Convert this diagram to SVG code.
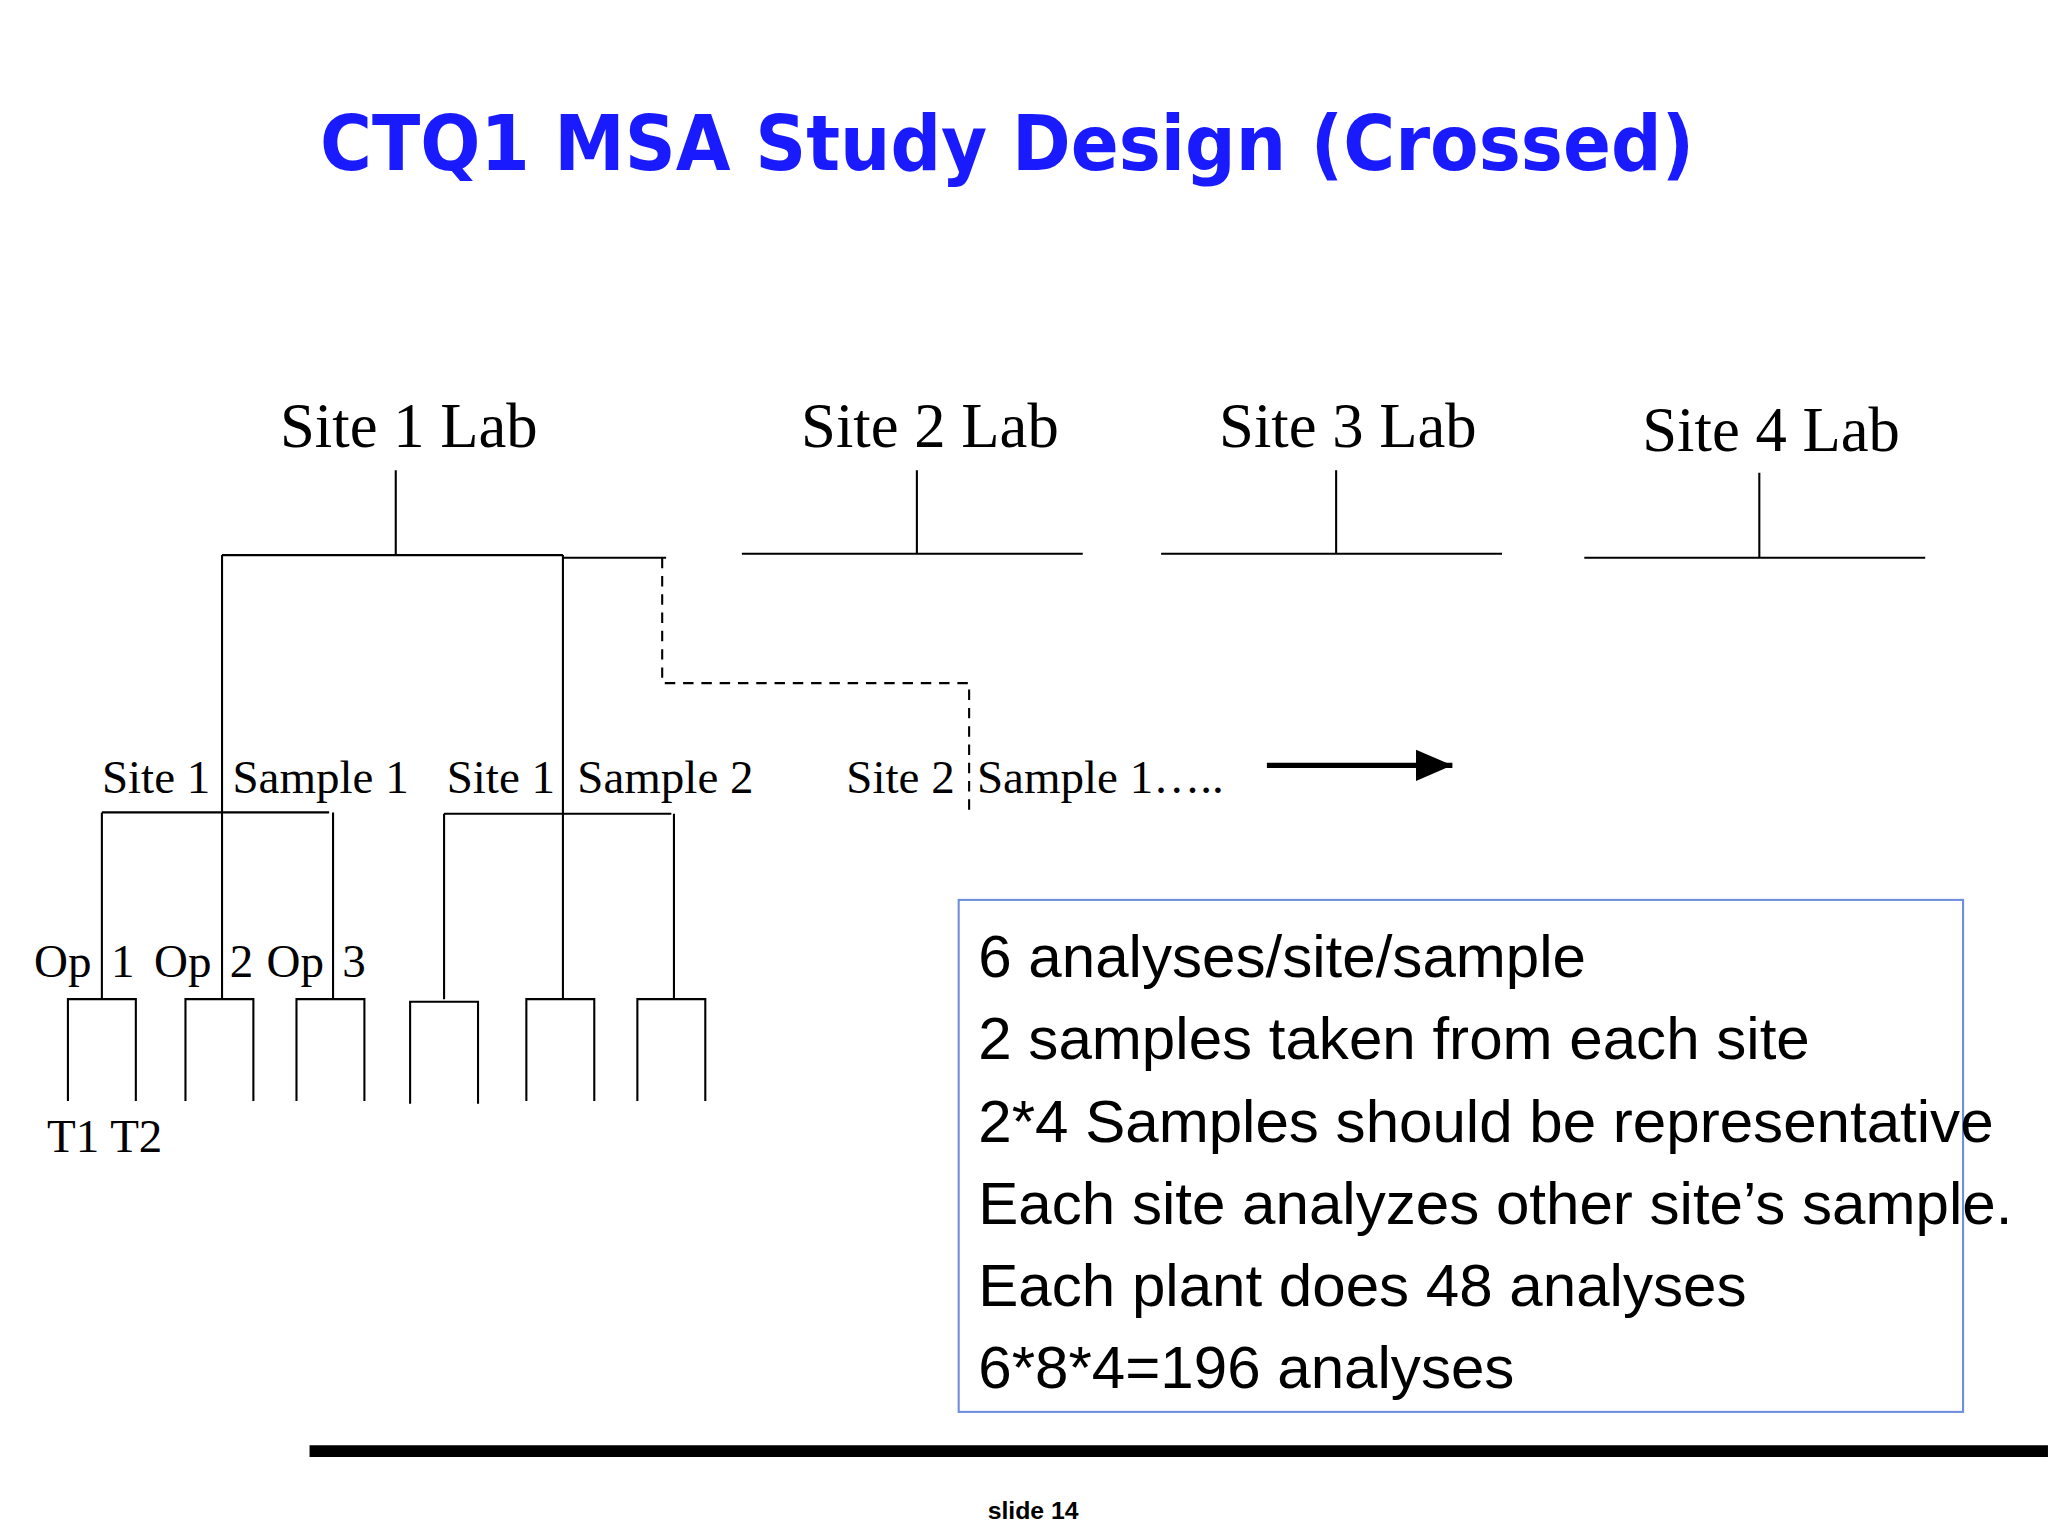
<svg xmlns="http://www.w3.org/2000/svg" width="2048" height="1536" viewBox="0 0 2048 1536">
<style>
.ln{stroke:#000;stroke-width:1.6;fill:none}
.t{font-family:"Liberation Serif","Times New Roman",serif;fill:#000}
.lab{font-size:48px}
.sm{font-size:36px}
.bx{font-family:"Liberation Sans Narrow","Liberation Sans",Arial,sans-serif;font-stretch:condensed;font-size:46px;fill:#000}
</style>
<defs><marker id="ah" markerWidth="8" markerHeight="8" refX="7" refY="4" orient="auto" markerUnits="strokeWidth"><path d="M0,1 L7,4 L0,7 z" fill="#000"/></marker></defs>
<rect width="2048" height="1536" fill="#fff"/>
<g transform="scale(1.3061)">
<text id="title" x="771" y="130" text-anchor="middle" font-family="'Comic Sans MS','DejaVu Sans',sans-serif" font-weight="bold" font-size="58" fill="#1a1aff" textLength="1052" lengthAdjust="spacingAndGlyphs">CTQ1 MSA Study Design (Crossed)</text>
<g id="site1"><text class="t lab" x="313" y="342" text-anchor="middle">Site 1 Lab</text></g>
<g id="site2"><text class="t lab" x="712" y="342" text-anchor="middle">Site 2 Lab</text></g>
<g id="site3"><text class="t lab" x="1032" y="342" text-anchor="middle">Site 3 Lab</text></g>
<g id="site4"><text class="t lab" x="1356" y="345" text-anchor="middle">Site 4 Lab</text></g>
<g id="samples" class="t sm">
<text x="78" y="607">Site 1</text><text x="178" y="607">Sample 1</text>
<text x="342" y="607">Site 1</text><text x="442" y="607">Sample 2</text>
<text x="648" y="607">Site 2</text><text x="748" y="607">Sample 1…..</text>
</g>
<g id="ops" class="t sm">
<text x="26" y="748">Op</text><text x="85" y="748">1</text>
<text x="118" y="748">Op</text><text x="176" y="748">2</text>
<text x="204" y="748">Op</text><text x="262" y="748">3</text>
<text x="36" y="882">T1 T2</text>
</g>
<g id="connectors">
<path class="ln" d="M303,360V425M170,425H431M431,427H510M170,425V765M431,425V765"/>
<path class="ln" d="M507,427V523H742V622" stroke-dasharray="8,6"/>
<path class="ln" d="M702,360V424M568,424H829M1023,360V424M889,424H1150M1347,362V427M1213,427H1474"/>
<path class="ln" d="M78,622H252M78,622V765M255,622V765M340,623H514M340,623V765M516,623V765"/>
<path class="ln" d="M52,843V765H104V843M142,843V765H194V843M227,843V765H279V843M314,845V767H366V845M403,843V765H455V843M488,843V765H540V843"/>
<line x1="970" y1="586" x2="1112" y2="586" stroke="#000" stroke-width="4" marker-end="url(#ah)"/>
</g>
<g id="note">
<rect x="734" y="689" width="769" height="392" fill="none" stroke="#6f8fdc" stroke-width="1.6"/>
<text class="bx" x="749" y="748">6 analyses/site/sample</text>
<text class="bx" x="749" y="811">2 samples taken from each site</text>
<text class="bx" x="749" y="874">2*4 Samples should be representative</text>
<text class="bx" x="749" y="937">Each site analyzes other site’s sample.</text>
<text class="bx" x="749" y="1000">Each plant does 48 analyses</text>
<text class="bx" x="749" y="1063">6*8*4=196 analyses</text>
</g>
<line x1="237" y1="1111" x2="1568" y2="1111" stroke="#000" stroke-width="9"/>
<text x="791" y="1163" text-anchor="middle" font-family="'Liberation Sans',Arial,sans-serif" font-weight="bold" font-size="19">slide  14</text>
</g>
</svg>
